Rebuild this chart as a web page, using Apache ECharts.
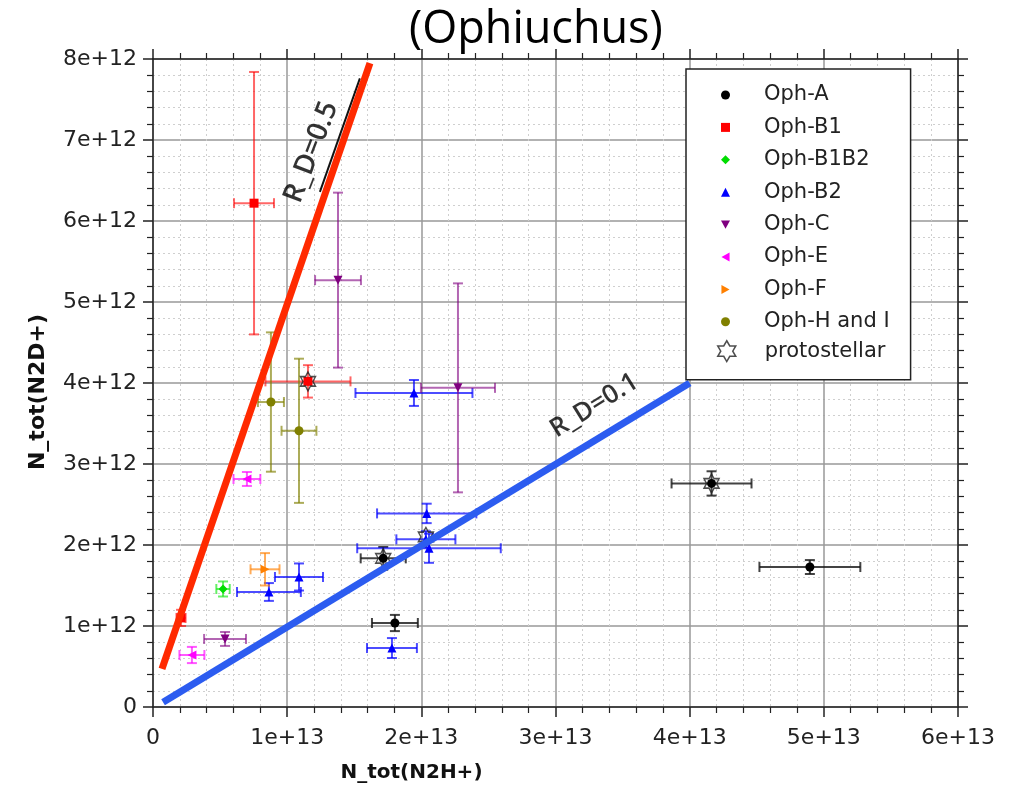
<!DOCTYPE html>
<html><head><meta charset="utf-8">
<script src="https://cdn.jsdelivr.net/npm/echarts@6/dist/echarts.min.js"></script>
<style>html,body{margin:0;padding:0;background:#fff}#c{width:1017px;height:794px}</style>
</head><body><div id="c"></div>
<script>
// ---- tick labels ----
const xTickLabels = ['0', '1e+13', '2e+13', '3e+13', '4e+13', '5e+13', '6e+13'];
const yTickLabels = ['0', '1e+12', '2e+12', '3e+12', '4e+12', '5e+12', '6e+12', '7e+12', '8e+12'];

// ---- data: [N_tot(N2H+), N_tot(N2D+), xErr, yErr] ----
const ophA = [[1.716e13, 1.835e12, 1.68e12, 1.4e11], [1.803e13, 1.037e12, 1.71e12, 1.0e11], [4.163e13, 2.76e12, 2.98e12, 1.5e11], [4.896e13, 1.728e12, 3.76e12, 0.86e11]];
const ophB1 = [[0.753e13, 6.22e12, 1.49e12, 1.62e12], [1.155e13, 4.02e12, 3.17e12, 2.0e11], [0.209e13, 1.10e12, 0.34e12, 1.0e11]];
const ophB1B2 = [[0.522e13, 1.457e12, 0.5e12, 0.93e11]];
const ophB2 = [[1.945e13, 3.877e12, 4.36e12, 1.6e11], [2.04e13, 2.39e12, 3.7e12, 1.2e11], [2.034e13, 2.07e12, 2.2e12, 1.0e11], [2.057e13, 1.96e12, 5.35e12, 1.8e11], [1.088e13, 1.605e12, 1.79e12, 1.67e11], [0.864e13, 1.42e12, 2.38e12, 1.1e11], [1.781e13, 0.728e12, 1.86e12, 1.23e11]];
const ophC = [[1.379e13, 5.27e12, 1.71e12, 1.08e12], [2.273e13, 3.94e12, 2.76e12, 1.29e12], [0.537e13, 0.84e12, 1.56e12, 0.86e11]];
const ophE = [[0.70e13, 2.815e12, 1.0e12, 0.86e11], [0.29e13, 0.642e12, 0.93e12, 1.0e11]];
const ophF = [[0.835e13, 1.70e12, 1.08e12, 2.0e11]];
const ophHI = [[0.879e13, 3.765e12, 0.97e12, 0.86e12], [1.088e13, 3.41e12, 1.3e12, 0.89e12]];
const protostellar = [[1.716e13, 1.835e12], [4.163e13, 2.76e12], [1.155e13, 4.02e12], [2.034e13, 2.10e12]];

// ---- reference lines ----
const lineRD05 = [[0.067e13, 0.47e12], [1.617e13, 7.95e12]];
const lineRD05base = [[1.244e13, 6.36e12], [1.542e13, 7.76e12]];
const lineRD01 = [[0.075e13, 0.06e12], [4.0e13, 4.0e12]];
const labelRD05 = ['R_D=0.5', 1.18e13, 6.85e12];
const labelRD01 = ['R_D=0.1', 3.29e13, 3.72e12];

const HEX = 'path://M0,-100L28.87,-50L86.6,-50L57.74,0L86.6,50L28.87,50L0,100L-28.87,50L-86.6,50L-57.74,0L-86.6,-50L-28.87,-50Z';
const TRI_DOWN = 'path://M0,0L10,0L5,9Z';
const TRI_LEFT = 'path://M9,0L9,10L0,5Z';
const TRI_RIGHT = 'path://M0,0L9,5L0,10Z';

const groups = [
  { name: 'Oph-A', data: ophA, color: '#000000', err: 'rgba(20,20,20,0.8)', symbol: 'circle', size: 9 },
  { name: 'Oph-B1', data: ophB1, color: '#ff0000', err: 'rgba(255,0,0,0.6)', symbol: 'rect', size: 9 },
  { name: 'Oph-B1B2', data: ophB1B2, color: '#00dd00', err: 'rgba(0,230,0,0.6)', symbol: 'diamond', size: 9 },
  { name: 'Oph-B2', data: ophB2, color: '#0000ff', err: 'rgba(0,0,255,0.7)', symbol: 'triangle', size: 9 },
  { name: 'Oph-C', data: ophC, color: '#800080', err: 'rgba(128,0,128,0.6)', symbol: TRI_DOWN, size: 9 },
  { name: 'Oph-E', data: ophE, color: '#ff00ff', err: 'rgba(255,0,255,0.65)', symbol: TRI_LEFT, size: 9 },
  { name: 'Oph-F', data: ophF, color: '#ff8000', err: 'rgba(255,128,0,0.65)', symbol: TRI_RIGHT, size: 9 },
  { name: 'Oph-H and I', data: ophHI, color: '#808000', err: 'rgba(128,128,0,0.65)', symbol: 'circle', size: 9 }
];

function errRenderer(color) {
  return function (params, api) {
    const x = api.value(0), y = api.value(1), ex = api.value(2), ey = api.value(3);
    const l = api.coord([x - ex, y]), r = api.coord([x + ex, y]);
    const t = api.coord([x, y + ey]), b = api.coord([x, y - ey]);
    const cap = 5;
    const st = { stroke: color, lineWidth: 2, fill: null };
    const seg = (x1, y1, x2, y2) => ({ type: 'line', shape: { x1, y1, x2, y2 }, style: st });
    return {
      type: 'group', children: [
        seg(l[0], l[1], r[0], r[1]),
        seg(l[0], l[1] - cap, l[0], l[1] + cap),
        seg(r[0], r[1] - cap, r[0], r[1] + cap),
        seg(t[0], t[1], b[0], b[1]),
        seg(t[0] - cap, t[1], t[0] + cap, t[1]),
        seg(b[0] - cap, b[1], b[0] + cap, b[1])
      ]
    };
  };
}

const series = [];
groups.forEach(g => {
  series.push({
    type: 'custom', name: g.name + ' err', data: g.data, encode: { x: 0, y: 1 },
    renderItem: errRenderer(g.err), z: 2, silent: true
  });
});
groups.forEach(g => {
  series.push({
    type: 'scatter', name: g.name, data: g.data.map(d => [d[0], d[1]]),
    symbol: g.symbol, symbolSize: g.size,
    itemStyle: { color: g.color, opacity: 1 }, z: 3
  });
});
series.push({
  type: 'scatter', name: 'protostellar', data: protostellar,
  symbol: HEX, symbolSize: [15, 19], symbolKeepAspect: false,
  itemStyle: { color: 'rgba(0,0,0,0)', borderColor: '#222', borderWidth: 1.5 }, z: 4
});
const lineSeries = (name, data, color, width) => ({
  type: 'line', name, data, symbol: 'none', silent: true,
  lineStyle: { color, width, cap: 'butt' }, z: 5
});
series.push(lineSeries('line05base', lineRD05base, '#111', 2));
series.push(lineSeries('R_D=0.5 line', lineRD05, '#ff2a00', 7));
series.push(lineSeries('R_D=0.1 line', lineRD01, '#2c5cf0', 7));
series.push({
  type: 'scatter', name: 'annotations', symbolSize: 0, silent: true, z: 6,
  itemStyle: { color: 'rgba(0,0,0,0)' },
  data: [
    { value: [labelRD05[1], labelRD05[2]], label: { formatter: labelRD05[0], rotate: 69, fontSize: 28 } },
    { value: [labelRD01[1], labelRD01[2]], label: { formatter: labelRD01[0], rotate: 32, fontSize: 26 } }
  ],
  label: { show: true, position: 'inside', color: '#000', fontFamily: 'Open Sans', fontWeight: 600, textBorderWidth: 0, textBorderColor: 'transparent' }
});

const axisLineStyle = { color: '#222', width: 1.5 };
const xBase = {
  type: 'value', min: 0, max: 6e13, interval: 1e13,
  axisLine: { show: true, onZero: false, lineStyle: axisLineStyle },
  axisTick: { show: true, inside: false, length: 10, lineStyle: axisLineStyle },
  minorTick: { show: true, splitNumber: 5, length: 6, lineStyle: { color: '#222', width: 1.2 } }
};
const yBase = {
  type: 'value', min: 0, max: 8e12, interval: 1e12,
  axisLine: { show: true, onZero: false, lineStyle: axisLineStyle },
  axisTick: { show: true, inside: false, length: 10, lineStyle: axisLineStyle },
  minorTick: { show: true, splitNumber: 5, length: 6, lineStyle: { color: '#222', width: 1.2 } }
};

const option = {
  backgroundColor: '#fff',
  animation: false,
  title: {
    text: '(Ophiuchus)', left: 404, top: 3,
    textStyle: { fontFamily: 'Open Sans', fontSize: 45, fontWeight: 'normal', color: '#000' }
  },
  grid: { left: 153, right: 59, top: 59, bottom: 87, containLabel: false },
  xAxis: [
    Object.assign({}, xBase, {
      position: 'bottom',
      name: 'N_tot(N2H+)', nameLocation: 'middle', nameGap: 56,
      nameTextStyle: { fontFamily: 'DejaVu Sans', fontWeight: 'bold', fontSize: 20, color: '#111', padding: [0, 288, 0, 0] },
      axisLabel: { margin: 20, fontFamily: 'DejaVu Sans', fontSize: 22, color: '#222', formatter: v => xTickLabels[Math.round(v / 1e13)] },
      splitLine: { show: true, lineStyle: { color: '#999', width: 1.5 } },
      minorSplitLine: { show: true, lineStyle: { color: '#cfcfcf', width: 1, type: [2, 3] } }
    }),
    Object.assign({}, xBase, {
      position: 'top', axisLabel: { show: false }, splitLine: { show: false }
    })
  ],
  yAxis: [
    Object.assign({}, yBase, {
      position: 'left',
      name: 'N_tot(N2D+)', nameLocation: 'middle', nameGap: 104,
      nameTextStyle: { fontFamily: 'DejaVu Sans', fontWeight: 'bold', fontSize: 22, color: '#111', padding: [0, 18, 0, 0] },
      axisLabel: { margin: 16, fontFamily: 'DejaVu Sans', fontSize: 22, color: '#222', formatter: v => yTickLabels[Math.round(v / 1e12)] },
      splitLine: { show: true, lineStyle: { color: '#999', width: 1.5 } },
      minorSplitLine: { show: true, lineStyle: { color: '#cfcfcf', width: 1, type: [2, 3] } }
    }),
    Object.assign({}, yBase, {
      position: 'right', axisLabel: { show: false }, splitLine: { show: false }
    })
  ],
  legend: [
    {
      data: groups.map(g => g.name), orient: 'vertical', left: 686, top: 69,
      itemWidth: 9, itemHeight: 9, itemGap: 10.4, padding: [15, 21, 47, 35],
      borderColor: '#222', borderWidth: 1.5, backgroundColor: '#fff', selectedMode: false,
      textStyle: { fontFamily: 'DejaVu Sans', fontSize: 21, color: '#222', lineHeight: 22, padding: [0, 0, 0, 29] },
      z: 8
    },
    {
      data: [{ name: 'protostellar', itemStyle: { color: 'rgba(0,0,0,0)', borderColor: '#222', borderWidth: 1.5 } }],
      orient: 'vertical', left: 686, top: 340, padding: [0, 0, 0, 31],
      itemWidth: 18, itemHeight: 22, selectedMode: false,
      textStyle: { fontFamily: 'DejaVu Sans', fontSize: 21, color: '#222', lineHeight: 22, padding: [0, 0, 0, 24] },
      z: 9
    }
  ],
  series
};

const chart = echarts.init(document.getElementById('c'), null, { renderer: 'canvas' });
chart.setOption(option);
</script>
</body></html>
